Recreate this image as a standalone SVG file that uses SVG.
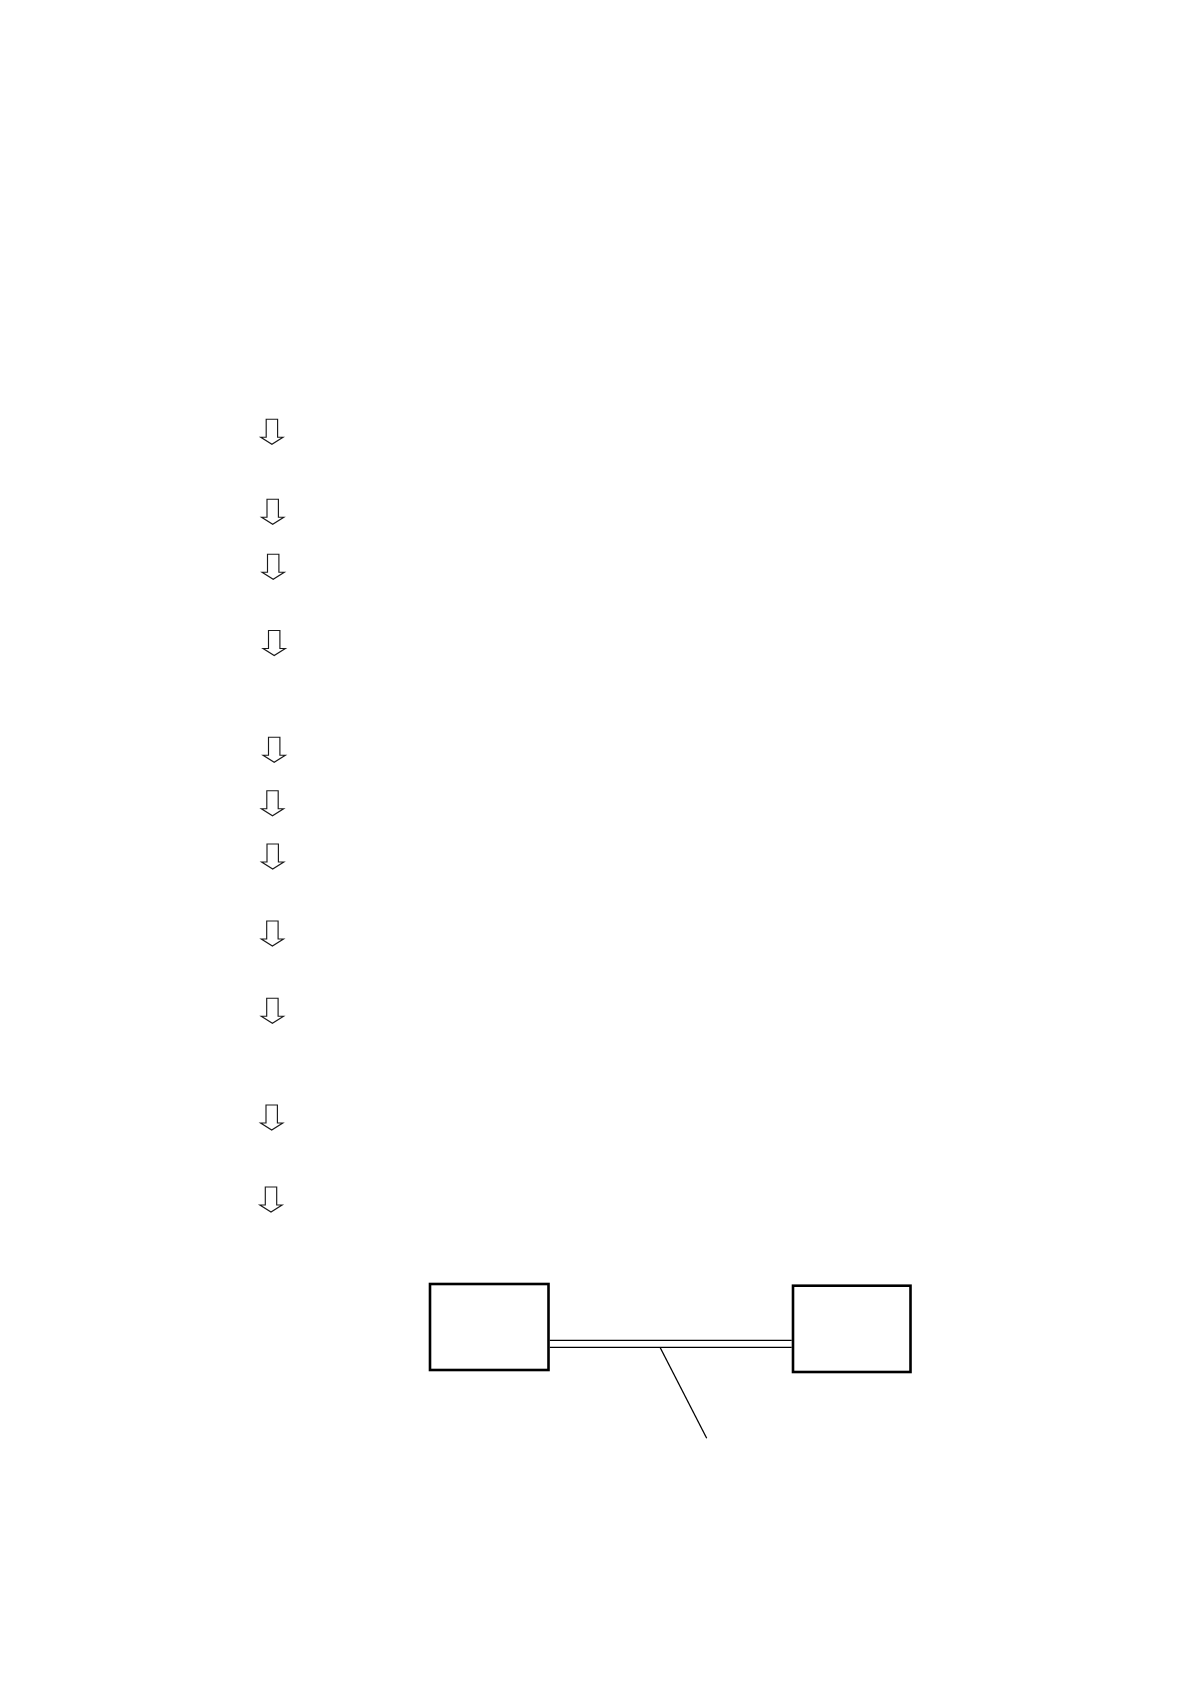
<svg xmlns="http://www.w3.org/2000/svg" xmlns:xlink="http://www.w3.org/1999/xlink" width="1190" height="1684" viewBox="0 0 1190 1684">
<style>
.box{fill:#fff;stroke:#000;stroke-width:2.6}
.arr{fill:#fff;stroke:#1a1a1a;stroke-width:1.15}
.ln{fill:none;stroke:#000;stroke-width:1.3}
</style>
<defs>
<path id="darrow" class="arr" d="M0,0 H11.4 V18 H16.8 L5.7,25 L-5.4,18 H0 Z"/>
</defs>
<rect width="1190" height="1684" fill="#fff"/>
<g id="arrows">
<use id="a1" xlink:href="#darrow" href="#darrow" x="266.2" y="419.3"/>
<use id="a2" xlink:href="#darrow" href="#darrow" x="267" y="499.3"/>
<use id="a3" xlink:href="#darrow" href="#darrow" x="267.5" y="554.3"/>
<use id="a4" xlink:href="#darrow" href="#darrow" x="268.5" y="630.5"/>
<use id="a5" xlink:href="#darrow" href="#darrow" x="268.5" y="737.3"/>
<use id="a6" xlink:href="#darrow" href="#darrow" x="266.8" y="790.7"/>
<use id="a7" xlink:href="#darrow" href="#darrow" x="267" y="844"/>
<use id="a8" xlink:href="#darrow" href="#darrow" x="266.7" y="921"/>
<use id="a9" xlink:href="#darrow" href="#darrow" x="266.7" y="998.3"/>
<use id="a10" xlink:href="#darrow" href="#darrow" x="266" y="1105"/>
<use id="a11" xlink:href="#darrow" href="#darrow" x="265.3" y="1187"/>
</g>
<g id="node-left"><rect class="box" x="430" y="1284" width="118.5" height="86"/></g>
<g id="node-right"><rect class="box" x="793" y="1285.7" width="117.5" height="86.3"/></g>
<g id="connectors">
<line class="ln" x1="549.8" y1="1340.3" x2="791.7" y2="1340.3"/>
<line class="ln" x1="549.8" y1="1347.3" x2="791.7" y2="1347.3"/>
<line class="ln" x1="660" y1="1347.3" x2="706.7" y2="1438.3"/>
</g>
</svg>
